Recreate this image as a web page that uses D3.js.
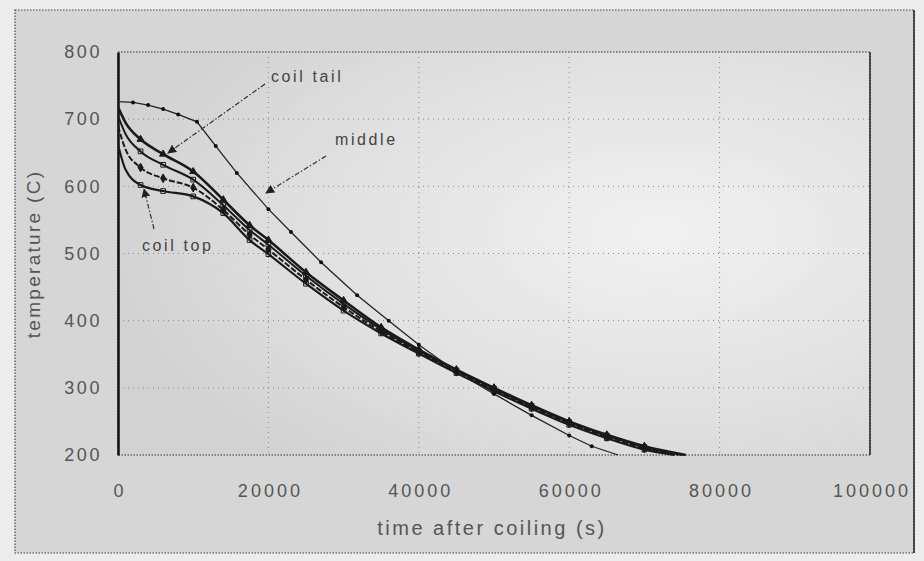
<!DOCTYPE html>
<html>
<head>
<meta charset="utf-8">
<script src="https://cdn.jsdelivr.net/npm/d3@7"></script>
<style>
  html, body { margin: 0; padding: 0; background: #ececec; }
  svg { display: block; }
  text { font-family: "Liberation Sans", Arial, sans-serif; }
</style>
</head>
<body>
<svg id="chart" width="924" height="561"></svg>
<script>
// ---- data ----
const xTicks = [0, 20000, 40000, 60000, 80000, 100000];
const yTicks = [200, 300, 400, 500, 600, 700, 800];

const middleTime = [0, 2000, 4000, 6000, 8000, 10500, 13000, 15800, 20000, 23000, 27000, 31800, 36000, 40000, 45000, 50000, 55000, 60000, 63000, 66500];
const middleTemp = [726, 725, 721, 715, 707, 696, 660, 620, 566, 532, 487, 438, 400, 364, 324, 291, 259, 229, 213, 200];

const bundleTime = [0, 1000, 3000, 6000, 10000, 14000, 17500, 20000, 25000, 30000, 35000, 40000, 45000, 50000, 55000, 60000, 65000, 70000];
const tailTemp   = [718, 695, 670, 648, 622, 580, 542, 520, 472, 430, 390, 357, 327, 300, 274, 250, 230, 213];
const secondTemp = [705, 678, 652, 632, 610, 572, 535, 513, 467, 425, 387, 355, 326, 299, 273, 249, 229, 212];
const thirdTemp  = [690, 655, 628, 612, 598, 565, 528, 506, 461, 420, 384, 353, 324, 297, 271, 247, 227, 210];
const topTemp    = [662, 625, 602, 593, 585, 560, 520, 499, 455, 415, 381, 351, 322, 295, 269, 245, 225, 208];
const endTime = [75500, 75000, 74500, 74000];

const labels = ["coil tail", "middle", "coil top"];

// ---- chart ----
const svg = d3.select("#chart");
const x = d3.scaleLinear().domain([0, 100000]).range([118, 870]);
const y = d3.scaleLinear().domain([200, 800]).range([455, 52]);

const defs = svg.append("defs");
const grad = defs.append("radialGradient").attr("id", "bg").attr("cx", "0.72").attr("cy", "0.45").attr("r", "0.75");
grad.append("stop").attr("offset", "0").attr("stop-color", "#f1f1f1");
grad.append("stop").attr("offset", "0.55").attr("stop-color", "#e2e2e2");
grad.append("stop").attr("offset", "1").attr("stop-color", "#d2d2d2");

const mk = defs.append("marker").attr("id", "arrow").attr("viewBox", "0 0 10 10")
  .attr("refX", 9).attr("refY", 5).attr("markerWidth", 9).attr("markerHeight", 9)
  .attr("markerUnits", "userSpaceOnUse").attr("orient", "auto");
mk.append("path").attr("d", "M0,0 L10,5 L0,10 z").attr("fill", "#222");

// outer frame
svg.append("rect").attr("x", 15).attr("y", 10).attr("width", 899).attr("height", 543)
  .attr("fill", "#d6d6d6").attr("stroke", "#444").attr("stroke-width", 1.2).attr("stroke-dasharray", "1.5,1.5");
svg.append("line").attr("x1", 914).attr("x2", 914).attr("y1", 10).attr("y2", 553).attr("stroke", "#222").attr("stroke-width", 1.5);

// plot area
svg.append("rect").attr("x", x(0)).attr("y", y(800)).attr("width", x(100000) - x(0)).attr("height", y(200) - y(800))
  .attr("fill", "url(#bg)").attr("stroke", "#333").attr("stroke-width", 1.2).attr("stroke-dasharray", "1.5,1.5");
svg.append("line").attr("x1", x(100000)).attr("x2", x(100000)).attr("y1", y(800)).attr("y2", y(200)).attr("stroke", "#222").attr("stroke-width", 1.4);

// gridlines
svg.append("g").selectAll("line").data(yTicks.filter(d => d > 200 && d < 800)).join("line")
  .attr("x1", x(0)).attr("x2", x(100000)).attr("y1", d => y(d)).attr("y2", d => y(d))
  .attr("stroke", "#888").attr("stroke-width", 1).attr("stroke-dasharray", "1,4");
svg.append("g").selectAll("line").data(xTicks.filter(d => d > 0 && d < 100000)).join("line")
  .attr("x1", d => x(d)).attr("x2", d => x(d)).attr("y1", y(800)).attr("y2", y(200))
  .attr("stroke", "#888").attr("stroke-width", 1).attr("stroke-dasharray", "1,4");

// axes
const yAxis = svg.append("g").attr("transform", `translate(${x(0)},0)`)
  .call(d3.axisLeft(y).tickValues(yTicks).tickSize(0).tickPadding(16).tickFormat(d3.format("d")));
yAxis.select(".domain").attr("stroke", "#111").attr("stroke-width", 2.5);
yAxis.selectAll("text").attr("font-size", 18).attr("fill", "#555").attr("letter-spacing", "2.6px");

const xAxis = svg.append("g").attr("transform", `translate(0,${y(200)})`)
  .call(d3.axisBottom(x).tickValues(xTicks).tickSize(0).tickPadding(29).tickFormat(d3.format("d")));
xAxis.select(".domain").remove();
xAxis.selectAll("text").attr("font-size", 18).attr("fill", "#555").attr("letter-spacing", "3px")
  .attr("dx", "1.5px");

// axis titles
svg.append("text").attr("transform", "translate(40,254) rotate(-90)").attr("text-anchor", "middle")
  .attr("font-size", 19).attr("fill", "#555").attr("letter-spacing", "2.3px").text("temperature (C)");
svg.append("text").attr("x", 492).attr("y", 535).attr("text-anchor", "middle")
  .attr("font-size", 20).attr("fill", "#555").attr("letter-spacing", "2.5px").text("time after coiling (s)");

// series
const line = d3.line().x(d => x(d[0])).y(d => y(d[1])).curve(d3.curveMonotoneX);
const clip = defs.append("clipPath").attr("id", "clip");
clip.append("rect").attr("x", x(0)).attr("y", y(800)).attr("width", x(100000) - x(0)).attr("height", y(200) - y(800) + 1);

const plot = svg.append("g").attr("clip-path", "url(#clip)");
const bundles = [
  { temps: tailTemp,   end: endTime[0], w: 2.6, dash: null,    marker: "tri" },
  { temps: secondTemp, end: endTime[1], w: 2.0, dash: null,    marker: "sq" },
  { temps: thirdTemp,  end: endTime[2], w: 2.0, dash: "6,2",   marker: "dia" },
  { temps: topTemp,    end: endTime[3], w: 2.2, dash: null,    marker: "sq" }
];
bundles.forEach(s => {
  const pts = bundleTime.map((t, i) => [t, s.temps[i]]).concat([[s.end, 200]]);
  plot.append("path").datum(pts).attr("d", line).attr("fill", "none")
    .attr("stroke", "#1a1a1a").attr("stroke-width", s.w).attr("stroke-dasharray", s.dash);
  const sym = s.marker === "tri" ? d3.symbolTriangle : s.marker === "sq" ? d3.symbolSquare : d3.symbolDiamond;
  plot.append("g").selectAll("path").data(pts.slice(2, -1)).join("path")
    .attr("transform", d => `translate(${x(d[0])},${y(d[1])})`)
    .attr("d", d3.symbol().type(sym).size(22))
    .attr("fill", s.marker === "sq" ? "none" : "#1a1a1a").attr("stroke", "#1a1a1a").attr("stroke-width", 1);
});

const midPts = middleTime.map((t, i) => [t, middleTemp[i]]);
plot.append("path").datum(midPts).attr("d", d3.line().x(d => x(d[0])).y(d => y(d[1])))
  .attr("fill", "none").attr("stroke", "#222").attr("stroke-width", 1.3);
plot.append("g").selectAll("circle").data(midPts.slice(1, -1)).join("circle")
  .attr("cx", d => x(d[0])).attr("cy", d => y(d[1])).attr("r", 2).attr("fill", "#111");

// annotations
const ann = svg.append("g").attr("font-size", 16).attr("fill", "#444").attr("letter-spacing", "2.6px");
ann.append("text").attr("x", 271).attr("y", 82).text(labels[0]);
ann.append("text").attr("x", 335).attr("y", 145).text(labels[1]);
ann.append("text").attr("x", 142).attr("y", 251).text(labels[2]);

const arrows = [
  { from: [265, 84], to: [168, 153] },
  { from: [326, 156], to: [266, 193] },
  { from: [154, 229], to: [144, 189] }
];
svg.append("g").selectAll("line").data(arrows).join("line")
  .attr("x1", d => d.from[0]).attr("y1", d => d.from[1]).attr("x2", d => d.to[0]).attr("y2", d => d.to[1])
  .attr("stroke", "#333").attr("stroke-width", 1.2).attr("stroke-dasharray", "5,2,1.5,2")
  .attr("marker-end", "url(#arrow)");
</script>
</body>
</html>
